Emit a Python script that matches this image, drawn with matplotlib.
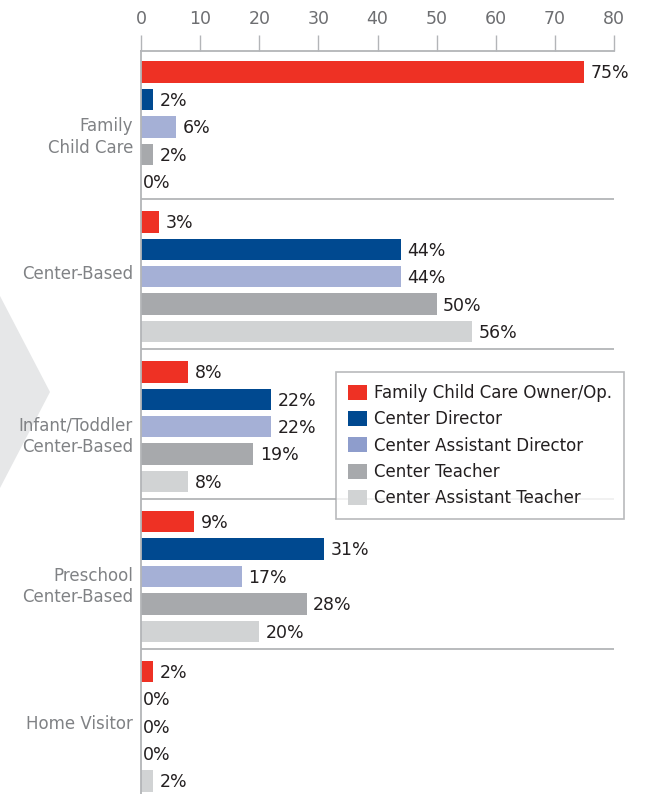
import matplotlib.pyplot as plt
from matplotlib.patches import Polygon, Patch

plt.rcParams['font.family'] = ['DejaVu Sans']

# survey results, percent of respondents by setting and role
categories = ["Family\nChild Care", "Center-Based", "Infant/Toddler\nCenter-Based",
              "Preschool\nCenter-Based", "Home Visitor"]
roles = ["Family Child Care Owner/Op.", "Center Director", "Center Assistant Director",
         "Center Teacher", "Center Assistant Teacher"]
owner_op = [75, 3, 8, 9, 2]
director = [2, 44, 22, 31, 0]
asst_director = [6, 44, 22, 17, 0]
teacher = [2, 50, 19, 28, 0]
asst_teacher = [0, 56, 8, 20, 2]

series = [owner_op, director, asst_director, teacher, asst_teacher]
colors = ["#ee3124", "#004990", "#a5b0d6", "#a7a9ac", "#d1d3d4"]
legend_colors = ["#ee3124", "#004990", "#8e9dcc", "#a7a9ac", "#d1d3d4"]

group_step = 5.47
bar_h = 0.78

fig = plt.figure(figsize=(6.46, 7.94), dpi=100)

# pale chevron behind the category labels
chev = Polygon([(0, 1 - 296 / 794), (50 / 646, 1 - 392 / 794), (0, 1 - 488 / 794)],
               closed=True, transform=fig.transFigure, facecolor="#e6e7e8",
               edgecolor="none", zorder=-5)
fig.patches.append(chev)

ax = fig.add_axes([141 / 646, 0.0, 473 / 646, 1 - 51 / 794])
ax.patch.set_alpha(0)

for g, cat in enumerate(categories):
    base = g * group_step
    for i, vals in enumerate(series):
        y = base + i
        v = vals[g]
        ax.barh(y, v, height=bar_h, color=colors[i], zorder=2)
        xoff = 1.1 if v > 0 else 0.4
        ax.text(v + xoff, y + 0.05, f"{v}%", va="center", ha="left",
                fontsize=12.5, color="#231f20")
    # category label next to the group
    dy = 0.37 if "\n" in cat else -0.1
    ax.text(-1.35, base + 2 + dy, cat, ha="right", va="center", fontsize=12,
            color="#808285", linespacing=1.25)
    if g > 0:
        ax.axhline(base - 0.82, color="#b3b5b8", lw=1.3, zorder=1)

ax.set_xlim(0, 80)
ax.set_ylim(4 * group_step + 4.47, -0.77)
ax.xaxis.tick_top()
ax.set_xticks(range(0, 81, 10))
ax.tick_params(axis="x", length=11.5, width=1, color="#b3b5b8", labelsize=12.5,
               labelcolor="#6d6e71", pad=5)
ax.set_yticks([])
for side in ["right", "bottom"]:
    ax.spines[side].set_visible(False)
for side in ["top", "left"]:
    ax.spines[side].set_color("#b3b5b8")
    ax.spines[side].set_linewidth(1.3)

handles = [Patch(facecolor=c, edgecolor="none") for c in legend_colors]
leg = fig.legend(handles, roles, loc="upper left",
                 bbox_to_anchor=(336 / 646, 1 - 372 / 794), borderaxespad=0,
                 fontsize=12, frameon=True, fancybox=False, handlelength=1.15,
                 handleheight=1.0, handletextpad=0.4, labelspacing=0.5,
                 borderpad=0.72, labelcolor="#231f20")
leg.get_frame().set_edgecolor("#a7a9ac")
leg.get_frame().set_linewidth(1.2)

fig.savefig("out.png", dpi=100)
